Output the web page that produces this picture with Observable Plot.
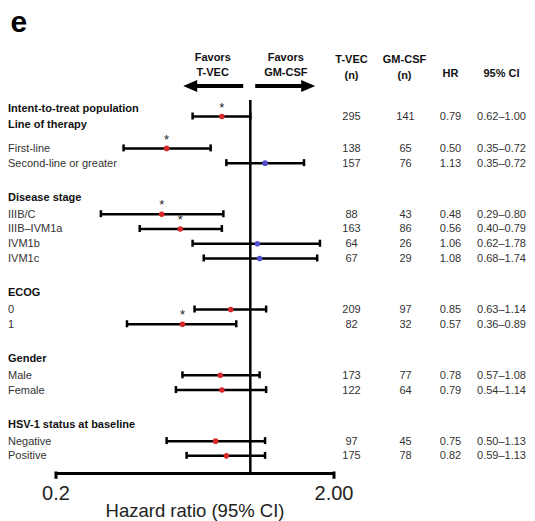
<!DOCTYPE html>
<html><head><meta charset="utf-8">
<script src="https://cdn.jsdelivr.net/npm/d3@7"></script>
<script src="https://cdn.jsdelivr.net/npm/@observablehq/plot@0.6"></script>
<style>body{margin:0;background:#fff}</style>
</head><body><div id="chart"></div>
<script>
// ---- data ----
const rowLabels = ["Intent-to-treat population","First-line","Second-line or greater","IIIB/C","IIIB–IVM1a","IVM1b","IVM1c","0","1","Male","Female","Negative","Positive"];
const hr      = [0.79,0.50,1.13,0.48,0.56,1.06,1.08,0.85,0.57,0.78,0.79,0.75,0.82];
const ciLow   = [0.62,0.35,0.82,0.29,0.40,0.62,0.68,0.63,0.36,0.57,0.54,0.50,0.59];
const ciHigh  = [1.00,0.72,1.56,0.80,0.79,1.78,1.74,1.14,0.89,1.08,1.14,1.13,1.13];
const ciText  = ["0.62–1.00","0.35–0.72","0.35–0.72","0.29–0.80","0.40–0.79","0.62–1.78","0.68–1.74","0.63–1.14","0.36–0.89","0.57–1.08","0.54–1.14","0.50–1.13","0.59–1.13"];
const nTvec   = [295,138,157,88,163,64,67,209,82,173,122,97,175];
const nGmcsf  = [141,65,76,43,86,26,29,97,32,77,64,45,78];
const significant = [true,true,false,true,true,false,false,false,true,false,false,false,false];
const sectionTitles = ["Line of therapy","Disease stage","ECOG","Gender","HSV-1 status at baseline"];
const sectionSizes  = [2,4,2,2,2];
const tickValues = [0.2, 2];
const tickLabels = ["0.2","2.00"];
const axisTitle = "Hazard ratio (95% CI)";
const favorsLeft = "Favors\nT-VEC";
const favorsRight = "Favors\nGM-CSF";
const panelLabel = "e";

// ---- layout (row units) ----
const rows = [{i:0, u:0}];
const headers = [];
let u = 0, idx = 1;
sectionTitles.forEach((t, s) => {
  let hu, first;
  if (s === 0) { hu = 0.53; first = 2.1; } else { hu = u + 2.24; first = hu + 1.12; }
  headers.push({title: t, u: hu});
  for (let k = 0; k < sectionSizes[s]; k++) { u = first + k * 0.97; rows.push({i: idx++, u}); }
});
const axisU = u + 1.16;
const data = rows.map(r => ({
  label: rowLabels[r.i], hr: hr[r.i], lo: ciLow[r.i], hi: ciHigh[r.i], ci: ciText[r.i],
  n1: nTvec[r.i], n2: nGmcsf[r.i], sig: significant[r.i], u: r.u, itt: r.i === 0
}));

const font = "'Liberation Sans', Arial, Helvetica, sans-serif";
const red = "#d8282a", blue = "#5050cc";
const fs = 11;
const txt = "#333";
const W = 535, H = 521, mT = 116, mB = 48;

function colText(field, dx, fmt) {
  return Plot.text(data, {y: "u", text: fmt ? d => fmt(d[field]) : field, frameAnchor: "right", textAnchor: "middle", dx, fontSize: fs, fill: txt});
}
function colHead(label, dx, dy, lh) {
  return Plot.text([label], {frameAnchor: "top-right", textAnchor: "middle", lineAnchor: "middle", dx, dy, fontSize: fs, fontWeight: "bold", fill: "#111", lineHeight: lh});
}

const plot = Plot.plot({
  width: W, height: H,
  marginLeft: 55.5, marginRight: 201.5, marginTop: mT, marginBottom: mB,
  x: {type: "log", domain: [0.2, 2], axis: null},
  y: {domain: [0, axisU], range: [mT, H - mB], axis: null},
  style: {fontFamily: font, background: "#fff", overflow: "visible"},
  marks: [
    Plot.ruleX([1], {y1: -1.05, y2: axisU, strokeWidth: 2.5, stroke: "#000"}),
    Plot.ruleY([axisU], {x1: tickValues[0], x2: tickValues[1], strokeWidth: 3, stroke: "#000"}),
    Plot.ruleX(tickValues, {y1: axisU - 0.1, y2: axisU + 0.38, strokeWidth: 3, stroke: "#000"}),
    Plot.text(tickValues, {x: d => d, frameAnchor: "bottom", lineAnchor: "middle", dy: 20, text: (d, i) => tickLabels[i], fontSize: 20, fill: "#222"}),
    Plot.text([axisTitle], {frameAnchor: "bottom", lineAnchor: "middle", dy: 37.5, fontSize: 18.5, fill: "#222"}),
    Plot.ruleY(data, {y: "u", x1: "lo", x2: "hi", strokeWidth: 2.5, stroke: "#000"}),
    Plot.ruleX(data, {x: "lo", y1: d => d.u - 0.23, y2: d => d.u + 0.23, strokeWidth: 2.5, stroke: "#000"}),
    Plot.ruleX(data, {x: "hi", y1: d => d.u - 0.23, y2: d => d.u + 0.23, strokeWidth: 2.5, stroke: "#000"}),
    Plot.dot(data.filter(d => d.hr < 1), {x: "hr", y: "u", r: 2.8, fill: red, stroke: "none"}),
    Plot.dot(data.filter(d => d.hr >= 1), {x: "hr", y: "u", r: 2.8, fill: blue, stroke: "none"}),
    Plot.text(data.filter(d => d.sig), {x: "hr", y: "u", text: () => "*", dy: -9, fontSize: 13, fill: "#222"}),
    // row labels
    Plot.text(data.filter(d => !d.itt), {y: "u", text: "label", frameAnchor: "left", dx: -48, textAnchor: "start", fontSize: fs, fill: txt}),
    Plot.text(data.filter(d => d.itt), {y: "u", text: "label", frameAnchor: "left", dx: -48, dy: -8, textAnchor: "start", fontSize: fs, fontWeight: "bold", fill: "#111"}),
    Plot.text(headers, {y: "u", text: "title", frameAnchor: "left", dx: -48, textAnchor: "start", fontSize: fs, fontWeight: "bold", fill: "#111"}),
    // table columns
    colText("n1", 17.5),
    colText("n2", 71.5),
    colText("hr", 116.5, d3.format(".2f")),
    colText("ci", 167.5),
    colHead("T-VEC\n(n)", 17.5, -51, 1.45),
    colHead("GM-CSF\n(n)", 70.5, -51, 1.45),
    colHead("HR", 116.5, -43),
    colHead("95% CI", 167.5, -43),
    // favors
    Plot.text([favorsLeft], {x: () => 1, frameAnchor: "top", lineAnchor: "middle", dx: -37.6, dy: -52.5, fontSize: fs, fontWeight: "bold", fill: "#111", lineHeight: 1.36}),
    Plot.text([favorsRight], {x: () => 1, frameAnchor: "top", lineAnchor: "middle", dx: 35.5, dy: -52.5, fontSize: fs, fontWeight: "bold", fill: "#111", lineHeight: 1.36}),
    Plot.text([panelLabel], {frameAnchor: "top-left", textAnchor: "start", lineAnchor: "middle", dx: -45.5, dy: -94, fontSize: 30, fontWeight: "bold", fill: "#000"})
  ]
});

// direction arrows anchored on HR = 1
const x1 = plot.scale("x").apply(1);
const ay = 86;
const svg = d3.select(plot);
function arrow(tail, tip) {
  const dir = Math.sign(tip - tail), hl = 14, hw = 6, sw = 2;
  const base = tip - dir * hl;
  const p = [[tail, ay - sw], [base, ay - sw], [base, ay - hw], [tip, ay], [base, ay + hw], [base, ay + sw], [tail, ay + sw]];
  svg.append("path").attr("d", "M" + p.map(q => q.join(",")).join("L") + "Z").attr("fill", "#000");
}
arrow(x1 - 6.6, x1 - 66.6);
arrow(x1 + 5.4, x1 + 65.4);

document.getElementById("chart").appendChild(plot);
</script>
</body></html>
